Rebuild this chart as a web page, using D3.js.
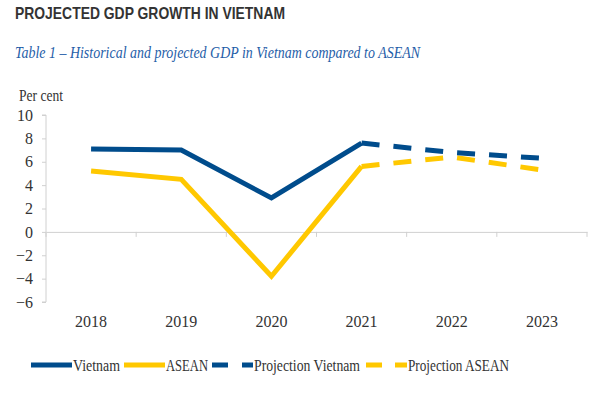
<!DOCTYPE html>
<html lang="en">
<head>
    <meta charset="UTF-8">
    <title>Projected GDP growth in Vietnam</title>
    <script src="https://cdn.jsdelivr.net/npm/d3@7/dist/d3.min.js"></script>
    <style>
        body { margin: 0; background: #fff; }
        .serif { font-family: "Liberation Serif", "DejaVu Serif", serif; fill: #333; }
    </style>
</head>
<body>
<svg id="chart" width="600" height="400" xmlns="http://www.w3.org/2000/svg"></svg>
<script>
    'use strict';
    // data
    const years = ['2018', '2019', '2020', '2021', '2022', '2023'];
    const vietnam = [7.1, 7.0, 2.9, 7.6, null, null];
    const asean = [5.2, 4.5, -3.8, 5.6, null, null];
    const projVietnam = [null, null, null, 7.6, 6.8, 6.3];
    const projAsean = [null, null, null, 5.6, 6.4, 5.3];
    const yTicks = [10, 8, 6, 4, 2, 0, -2, -4, -6];
    const legendNames = ['Vietnam', 'ASEAN', 'Projection Vietnam', 'Projection ASEAN'];

    const blue = '#004c8c', yellow = '#ffc800', axisCol = '#d0d0d0';
    const svg = d3.select('#chart');

    const x = d3.scaleBand().domain(years).range([46, 587]);
    const y = d3.scaleLinear().domain([-6, 10]).range([302, 115]);

    // titles
    svg.append('text').attr('x', 15).attr('y', 19)
        .attr('font-family', '"Liberation Sans", Arial, sans-serif')
        .attr('font-weight', 'bold').attr('font-size', 16.5).attr('fill', '#333')
        .attr('textLength', 270).attr('lengthAdjust', 'spacingAndGlyphs')
        .text('PROJECTED GDP GROWTH IN VIETNAM');
    svg.append('text').attr('x', 15).attr('y', 58)
        .attr('font-family', '"Liberation Serif", serif').attr('font-style', 'italic')
        .attr('font-size', 17.5).attr('fill', '#1f5ea8')
        .attr('textLength', 405).attr('lengthAdjust', 'spacingAndGlyphs')
        .text('Table 1 \u2013 Historical and projected GDP in Vietnam compared to ASEAN');
    svg.append('text').attr('class', 'serif').attr('x', 19).attr('y', 101)
        .attr('font-size', 16).attr('textLength', 44).attr('lengthAdjust', 'spacingAndGlyphs')
        .text('Per cent');

    // y axis
    const yAxis = svg.append('g').attr('transform', 'translate(46,0)')
        .call(d3.axisLeft(y).tickValues(yTicks).tickSize(4).tickPadding(9));
    yAxis.select('.domain').attr('stroke', axisCol).attr('d', 'M-4,' + y(10) + 'H0V' + y(-6) + 'H-4');
    yAxis.selectAll('.tick line').attr('stroke', axisCol);
    yAxis.selectAll('.tick text').attr('class', 'serif').attr('font-size', 16);

    // x axis on zero line
    const xAxis = svg.append('g').attr('transform', 'translate(0,' + y(0) + ')')
        .call(d3.axisBottom(x).tickSize(0).tickPadding(84));
    xAxis.select('.domain').attr('stroke', axisCol);
    xAxis.selectAll('.tick text').attr('class', 'serif').attr('font-size', 16);
    xAxis.selectAll('.bound')
        .data(d3.range(years.length + 1))
        .join('line')
        .attr('x1', i => x.range()[0] + i * x.step())
        .attr('x2', i => x.range()[0] + i * x.step())
        .attr('y1', 0).attr('y2', 5)
        .attr('stroke', axisCol);

    const line = d3.line()
        .defined(d => d.v !== null)
        .x(d => x(d.k) + x.bandwidth() / 2)
        .y(d => y(d.v));

    const series = [
        {vals: projAsean, color: yellow, dash: '18,14'},
        {vals: projVietnam, color: blue, dash: '18,14'},
        {vals: asean, color: yellow, dash: null},
        {vals: vietnam, color: blue, dash: null}
    ];
    series.forEach(s => {
        svg.append('path')
            .datum(years.map((k, i) => ({k: k, v: s.vals[i]})))
            .attr('d', line)
            .attr('fill', 'none')
            .attr('stroke', s.color)
            .attr('stroke-width', 5)
            .attr('stroke-dasharray', s.dash);
    });

    // legend
    const legend = [
        {color: blue, dash: null, x0: 31, w: 47},
        {color: yellow, dash: null, x0: 124, w: 42},
        {color: blue, dash: '16,14', x0: 212, w: 106},
        {color: yellow, dash: '16,13', x0: 366, w: 101}
    ].map((d, i) => Object.assign({name: legendNames[i]}, d));
    const lg = svg.selectAll('.leg').data(legend).join('g')
        .attr('transform', d => 'translate(' + d.x0 + ',365)');
    lg.append('line').attr('x1', 0).attr('x2', 41).attr('y1', 0).attr('y2', 0)
        .attr('stroke', d => d.color).attr('stroke-width', 5)
        .attr('stroke-dasharray', d => d.dash);
    lg.append('text').attr('class', 'serif').attr('x', 42).attr('y', 5.5)
        .attr('font-size', 16).attr('textLength', d => d.w).attr('lengthAdjust', 'spacingAndGlyphs')
        .text(d => d.name);
</script>
</body>
</html>
